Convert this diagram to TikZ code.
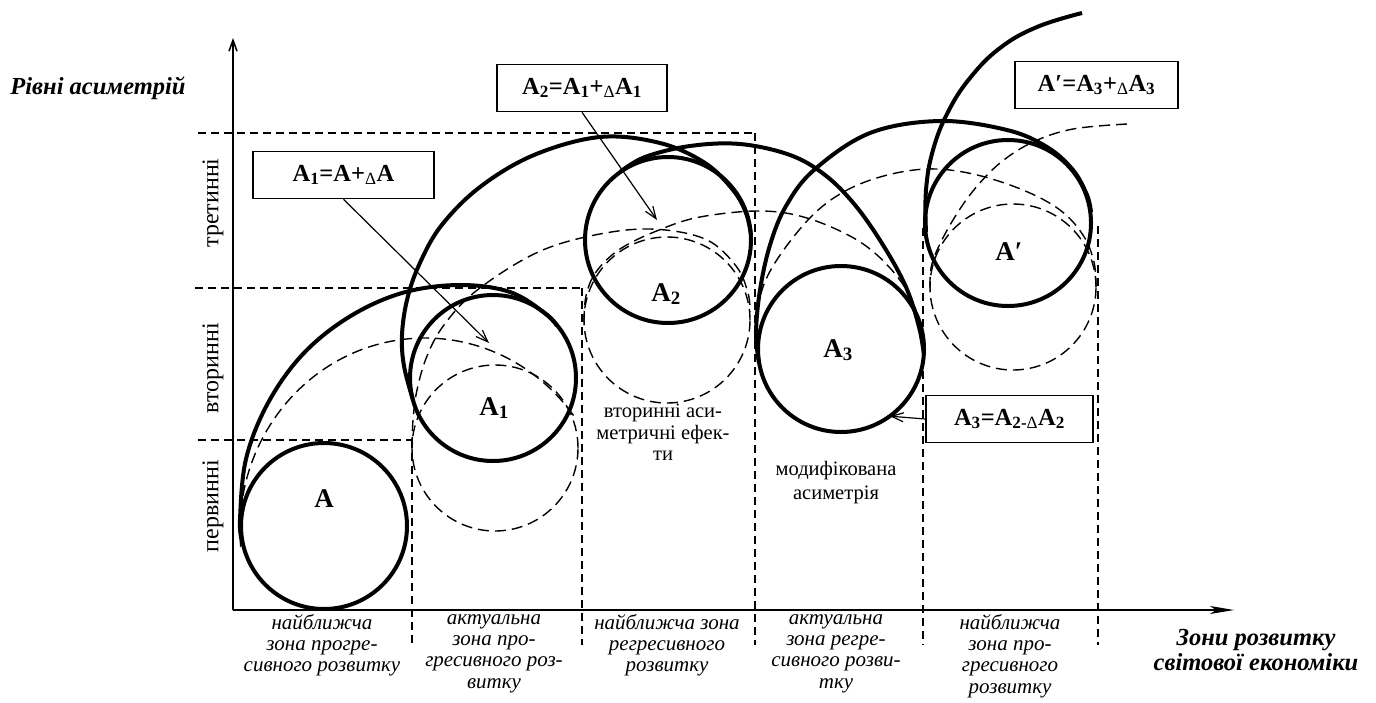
\documentclass[tikz,border=0pt]{standalone}
\usepackage{fontspec}
\setmainfont{Liberation Serif}
\usetikzlibrary{arrows.meta}

\tikzset{
  ring/.style={circle, draw, line width=4pt, minimum size=166pt, inner sep=0pt, outer sep=0pt},
  ghostring/.style={circle, draw, line width=1.4pt, dash pattern=on 11pt off 6pt, minimum size=166pt, inner sep=0pt, outer sep=0pt},
  swirl/.style={line width=4pt, line join=round},
  ghost/.style={line width=1.4pt, dash pattern=on 11pt off 6pt},
  guide/.style={line width=1.2pt, dash pattern=on 8pt off 5pt},
  axis/.style={line width=1.5pt},
  formula/.style={draw, line width=1.6pt, inner sep=0pt, minimum height=47pt,
    font=\fontsize{24.5}{27}\selectfont\bfseries},
  stagelbl/.style={font=\fontsize{27}{30}\selectfont\bfseries, inner sep=0pt, anchor=base},
  zone/.style={font=\fontsize{21}{21.3}\selectfont\itshape, align=center, anchor=north,
    inner sep=0pt, execute at begin node=\strut},
  note/.style={font=\fontsize{20.5}{21.5}\selectfont, align=center, anchor=north,
    inner sep=0pt, execute at begin node=\strut},
  level/.style={font=\fontsize{24}{28}\selectfont, rotate=90, inner sep=0pt},
  axistitle/.style={font=\fontsize{24.5}{25}\selectfont\bfseries\itshape, align=center, inner sep=0pt},
  pointer/.style={line width=1.2pt, -{Straight Barb[length=12pt,width=9pt]}},
}

\begin{document}
\begin{tikzpicture}[x=1pt, y=-1pt]
\useasboundingbox (0,0) rectangle (1376,702);

% axes
\coordinate (O) at (233,610);
\coordinate (ytop) at (233,38);
\coordinate (xend) at (1234,610);
\draw[axis, -{Straight Barb[length=11pt,width=8pt]}] (O) -- (ytop);
\draw[axis, -{Stealth[length=24pt,width=8pt,inset=6pt]}] (O) -- (xend);

% level and zone boundaries
\draw[guide] (198,133) -- (755,133);
\draw[guide] (195,288) -- (582,288);
\draw[guide] (198,440) -- (412,440);
\draw[guide] (412,440) -- (412,645);
\draw[guide] (582,288) -- (582,645);
\draw[guide] (755,133) -- (755,645);
\draw[guide] (923,228) -- (923,645);
\draw[guide] (1098,226) -- (1098,645);

% level names
\node[level] (lv1) at (213,506) {первинні};
\node[level] (lv2) at (213,368) {вторинні};
\node[level] (lv3) at (213,203) {третинні};
\node[axistitle] (ytitle) at (98,88) {Рівні асиметрій};
\node[axistitle] (xtitle) at (1256,650) {Зони розвитку\\світової економіки};

% zone names
\node[zone] (z1) at (322,614) {найближча\\зона прогре-\\сивного розвитку};
\node[zone] (z2) at (494,614) {актуальна\\зона про-\\гресивного роз-\\витку};
\node[zone] (z3) at (667,614) {найближча зона\\регресивного\\розвитку};
\node[zone] (z4) at (836,614) {актуальна\\зона регре-\\сивного розви-\\тку};
\node[zone] (z5) at (1010,614) {найближча\\зона про-\\гресивного\\розвитку};

% shifted (dashed) states
\node[ghostring] (gA1) at (495,448) {};
\node[ghostring] (gA2) at (667,320) {};
\node[ghostring] (gAp) at (1013,287) {};

% dashed envelopes
\draw[ghost] (425,530) ++(175:185 and 192) arc[start angle=175, end angle=325, x radius=185, y radius=192];
\draw[ghost] plot[smooth, tension=0.6] coordinates {(412,448) (413,420) (417,390) (427,356) (444,325) (476,291) (534,254) (590,236) (650,229) (705,239) (736,266) (748,293) (750,312)};
\draw[ghost] plot[smooth, tension=0.6] coordinates {(584,322) (586,296) (596,272) (620,249) (659,230) (700,217) (760,211) (807,218) (857,240) (890,268) (912,300) (921,332) (923,352)};
\draw[ghost] plot[smooth, tension=0.6] coordinates {(757,345) (759,302) (773,266) (807,221) (840,194) (880,177) (927,169) (973,174) (1023,190) (1060,210) (1083,235) (1094,262) (1096,287)};
\draw[ghost] plot[smooth, tension=0.6] coordinates {(930,288) (931,268) (938,248) (953,220) (973,191) (1000,163) (1033,142) (1073,129) (1127,124)};

% states
\node[ring] (sA) at (324,526) {};
\node[ring] (sA1) at (493,378) {};
\node[ring] (sA2) at (668,240) {};
\node[ring] (sA3) at (841,349) {};
\node[ring] (sAp) at (1008,223) {};

% solid envelopes
\draw[swirl] plot[smooth, tension=0.6] coordinates {(242,541) (240,520) (246,459) (268,403) (303,354) (349,317) (402,293) (459,285) (510,292) (546,314) (557,326)};
\draw[swirl] plot[smooth, tension=0.6] coordinates {(413,400) (404,366) (402,335) (407,300) (419,265) (441,226) (480,187) (534,155) (600,137) (660,143) (705,163) (733,190) (746,213) (751,235)};
\draw[swirl] plot[smooth, tension=0.6] coordinates {(620,172) (645,157) (690,146) (740,144) (790,155) (825,175) (855,205) (883,245) (906,287) (919,327) (924,355)};
\draw[swirl] plot[smooth, tension=0.6] coordinates {(759,363) (756,333) (760,290) (770,245) (786,206) (814,170) (870,133) (940,121) (1007,130) (1047,147) (1073,170) (1087,195) (1091,212)};
\draw[swirl] plot[smooth, tension=0.7] coordinates {(926,232) (926,190) (933,150) (948,112) (970,78) (1000,48) (1037,27) (1082,13)};

% state names
\node[stagelbl] (tA) at (324,507) {A};
\node[stagelbl] (tA1) at (494,415) {A\textsubscript{1}};
\node[stagelbl] (tA2) at (666,301) {A\textsubscript{2}};
\node[stagelbl] (tA3) at (838,357) {A\textsubscript{3}};
\node[stagelbl] (tAp) at (1009,260) {A′};

% notes
\node[note] (n1) at (663,404) {вторинні аси-\\метричні ефек-\\ти};
\node[note, font=\fontsize{20.5}{24}\selectfont] (n2) at (836,461) {модифікована\\асиметрія};

% formulas
\node[formula, minimum width=181pt] (f1) at (343.5,175) {A\textsubscript{1}=A+\textsubscript{\mdseries Δ}A};
\node[formula, minimum width=170pt] (f2) at (582,88) {A\textsubscript{2}=A\textsubscript{1}+\textsubscript{\mdseries Δ}A\textsubscript{1}};
\node[formula, minimum width=163pt] (f4) at (1096.5,85) {A′=A\textsubscript{3}+\textsubscript{\mdseries Δ}A\textsubscript{3}};
\node[formula, minimum width=167pt] (f3) at (1009.5,419) {A\textsubscript{3}=A\textsubscript{2-{\mdseries Δ}}A\textsubscript{2}};

% pointers
\coordinate (p1) at (489,343);
\coordinate (p2) at (657,220);
\draw[pointer] (f1.south) -- (p1);
\draw[pointer] (f2.south) -- (p2);
\draw[pointer] (f3.west) -- (sA3.-54);
\end{tikzpicture}
\end{document}
